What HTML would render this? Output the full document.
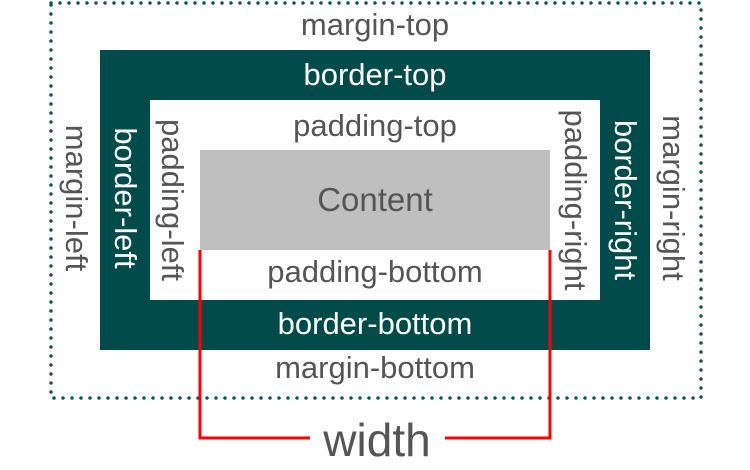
<!DOCTYPE html>
<html><head><style>
body{margin:0;width:750px;height:470px;background:#fff;position:relative;overflow:hidden;font-family:"Liberation Sans",sans-serif}
.b{position:absolute}
.t{position:absolute;font-size:31px;color:#555;white-space:nowrap;transform:translate(-50%,-50%)}
.w{color:#fff}
.r{transform:translate(-50%,-50%) rotate(90deg)}
</style></head><body>
<div class="b" style="left:100px;top:50px;width:550px;height:300px;background:#024b4b"></div>
<div class="b" style="left:150px;top:100px;width:450px;height:200px;background:#fff"></div>
<div class="b" style="left:200px;top:150px;width:350px;height:100px;background:#bfbfbf"></div>
<svg class="b" style="left:0;top:0" width="750" height="470">
<rect x="51" y="3" width="650" height="395" fill="none" stroke="#0e5656" stroke-width="3.5" stroke-linecap="round" stroke-dasharray="0 9"/>
<polyline points="200,250 200,438 310,438" fill="none" stroke="#f00" stroke-width="3"/>
<polyline points="445,438 550,438 550,250" fill="none" stroke="#f00" stroke-width="3"/>
</svg>
<div class="t" style="left:375px;top:25px">margin-top</div>
<div class="t w" style="left:375px;top:75px">border-top</div>
<div class="t" style="left:375px;top:126px">padding-top</div>
<div class="t" style="left:375px;top:200px;font-size:33px">Content</div>
<div class="t" style="left:375px;top:272px">padding-bottom</div>
<div class="t w" style="left:375px;top:324px">border-bottom</div>
<div class="t" style="left:375px;top:368px">margin-bottom</div>
<div class="t" style="left:377px;top:440px;font-size:46px">width</div>
<div class="t r" style="left:76px;top:198px">margin-left</div>
<div class="t r w" style="left:125px;top:198px">border-left</div>
<div class="t r" style="left:172px;top:200px">padding-left</div>
<div class="t r" style="left:575px;top:200px">padding-right</div>
<div class="t r w" style="left:625px;top:200px">border-right</div>
<div class="t r" style="left:673px;top:198px">margin-right</div>
</body></html>
